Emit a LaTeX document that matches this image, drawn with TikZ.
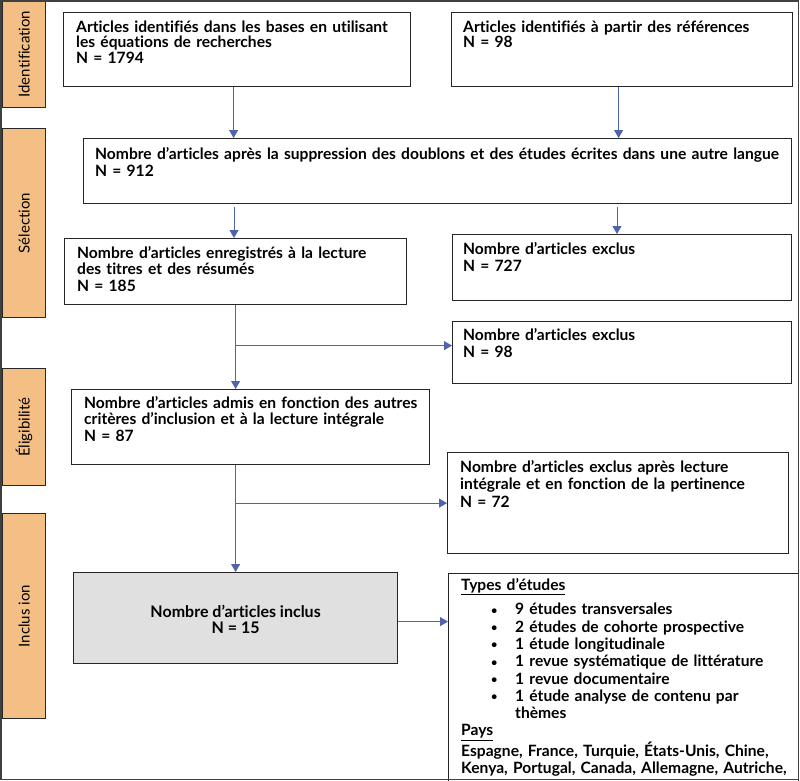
\documentclass[tikz,border=0pt]{standalone}
\usepackage{fontspec}
\setmainfont{Lato}[Ligatures={NoCommon}]
\usetikzlibrary{arrows.meta,calc}
\definecolor{tabfill}{HTML}{F4BF85}
\definecolor{arr}{HTML}{4F63B0}
\definecolor{framec}{HTML}{404040}
\definecolor{boxline}{HTML}{262626}
\definecolor{grayfill}{HTML}{E0E0E0}
\newcommand\itm[1]{\makebox[54pt][l]{\hspace*{30pt}\raisebox{0.6pt}{\fontsize{11}{11}\selectfont\textbullet}}#1}
\tikzset{
  box/.style={draw=boxline, line width=1.2pt, anchor=north west, inner sep=0pt},
  tabbox/.style={draw=boxline, fill=tabfill, line width=1.2pt, anchor=north west, inner sep=0pt, minimum width=43pt},
  tablabel/.style={rotate=90, inner sep=0pt, font=\fontsize{15}{16}\selectfont},
  txt/.style={anchor=base west, inner sep=0pt, align=left, text width=#1, font=\bfseries\fontsize{15.6}{17.5}\selectfont},
  txt/.default=710pt,
  conn/.style={draw=arr, line width=1pt, -{Triangle[width=9pt,length=8pt]}},
}
\begin{document}
\begin{tikzpicture}[x=1pt,y=-1pt]
\useasboundingbox (0,0) rectangle (800,780);
\begin{scope}
\clip (0,0) rectangle (800,780);
% tabs
\node[tabbox, minimum height=107pt] (tabI) at (2,0) {};
\node[tabbox, minimum height=189pt] (tabS) at (2,128) {};
\node[tabbox, minimum height=117pt] (tabE) at (2,368) {};
\node[tabbox, minimum height=205pt] (tabC) at (2,513) {};
\node[tablabel] (lI) at (tabI.center) {Identification};
\node[tablabel] (lS) at (tabS.center) {Sélection};
\node[tablabel] (lE) at (tabE.center) {Éligibilité};
\node[tablabel] (lC) at (tabC.center) {Inclus ion};
% boxes
\node[box, minimum width=347pt, minimum height=74pt] (b1) at (63,12) {};
\node[box, minimum width=341pt, minimum height=74pt] (b2) at (451,12) {};
\node[box, minimum width=708pt, minimum height=65pt] (b3) at (83,138) {};
\node[box, minimum width=342pt, minimum height=66pt] (b4) at (64,238) {};
\node[box, minimum width=339pt, minimum height=66pt] (b5) at (452,234) {};
\node[box, minimum width=339pt, minimum height=62pt] (b6) at (452,321) {};
\node[box, minimum width=358pt, minimum height=75pt] (b7) at (71,389) {};
\node[box, minimum width=341pt, minimum height=101pt] (b8) at (447,452) {};
\node[box, fill=grayfill, minimum width=324pt, minimum height=91pt] (b9) at (73,572) {};
\node[box, minimum width=350pt, minimum height=212pt] (b10) at (448,573) {};
% texts
\node[txt, font=\bfseries\fontsize{15.6}{15.8}\selectfont] (t1) at ($(b1.north west)+(13,20)$) {Articles identifiés dans les bases en utilisant\\les équations de recherches\\N = 1794};
\node[txt, font=\bfseries\fontsize{15.6}{15.8}\selectfont] (t2) at ($(b2.north west)+(12,20)$) {Articles identifiés à partir des références\\N = 98};
\node[txt] (t3) at ($(b3.north west)+(12,21)$) {Nombre d’articles après la suppression des doublons et des études écrites dans une autre langue\\N = 912};
\node[txt, font=\bfseries\fontsize{15.6}{16.7}\selectfont] (t4) at ($(b4.north west)+(13,20)$) {Nombre d’articles enregistrés à la lecture\\des titres et des résumés\\N = 185};
\node[txt] (t5) at ($(b5.north west)+(11,20)$) {Nombre d’articles exclus\\N = 727};
\node[txt] (t6) at ($(b6.north west)+(11,19)$) {Nombre d’articles exclus\\N = 98};
\node[txt, font=\bfseries\fontsize{15.6}{16.7}\selectfont] (t7) at ($(b7.north west)+(13,19)$) {Nombre d’articles admis en fonction des autres\\critères d’inclusion et à la lecture intégrale\\N = 87};
\node[txt] (t8) at ($(b8.north west)+(13,20)$) {Nombre d’articles exclus après lecture\\intégrale et en fonction de la pertinence\\N = 72};
\node[inner sep=0pt, align=center, font=\bfseries\fontsize{16}{16}\selectfont] (t9) at ($(b9.center)+(0,1)$) {Nombre d’articles inclus\\N = 15};
\node[txt, font=\bfseries\fontsize{15.6}{17.3}\selectfont] (t10) at ($(b10.north west)+(13,17)$) {\underline{Types d’études}\\[7.5pt]
\itm{9 études transversales}\\
\itm{2 études de cohorte prospective}\\
\itm{1 étude longitudinale}\\
\itm{1 revue systématique de littérature}\\
\itm{1 revue documentaire}\\
\itm{1 étude analyse de contenu par}\\
\makebox[54pt]{}thèmes\\
\underline{Pays}\\
Espagne, France, Turquie, États-Unis, Chine,\\
Kenya, Portugal, Canada, Allemagne, Autriche,};
% connectors
\draw[conn] ([xshift=-3.5pt]b1.south) -- ([xshift=-3.5pt]b1.south |- b3.north);
\draw[conn] ([xshift=-3.5pt]b2.south) -- ([xshift=-3.5pt]b2.south |- b3.north);
\coordinate (s1) at ($(b3.south west)+(151,3)$);
\coordinate (s2) at ($(b3.south west)+(534,3)$);
\draw[conn] (s1) -- (s1 |- b4.north);
\draw[conn] (s2) -- (s2 |- b5.north);
\draw[conn] (b4.south) -- (b4.south |- b7.north);
\coordinate (j1) at ($(b6.west)+(0,-7)$);
\draw[conn] (j1 -| b4.south) -- (j1);
\draw[conn] (b9.north |- b7.south) -- (b9.north);
\draw[conn] (b9.north |- b8.west) -- (b8.west);
\coordinate (j3) at ($(b9.east)+(0,3.5)$);
\draw[conn] (j3) -- (j3 -| b10.west);
\end{scope}
% frame
\draw[framec, line width=1.5pt] (0.75,0.75) rectangle (798.5,779.25);
\end{tikzpicture}
\end{document}
